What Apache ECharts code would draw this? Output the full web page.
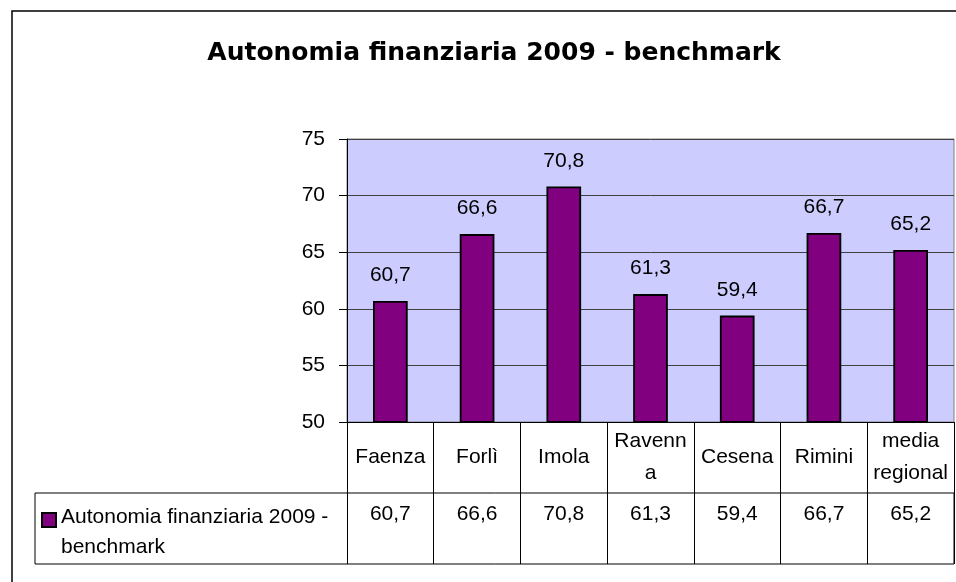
<html>
    <head>
        <meta charset="utf-8">
        <script src="https://cdn.jsdelivr.net/npm/echarts@6/dist/echarts.min.js"></script>
    </head>
    <body>
        <style>
            html, body, #main {
                width: 100%;
                height: 100%;
                margin: 0;
                background: #fff;
            }
        </style>
        <div id='main'></div>
        <script>
            var chart = echarts.init(document.getElementById('main'));

            // data
            var categories = ['Faenza', 'Forlì', 'Imola', 'Ravenn\na', 'Cesena', 'Rimini', 'media\nregional'];
            var values = [60.7, 66.6, 70.8, 61.3, 59.4, 66.7, 65.2];
            var seriesName = 'Autonomia finanziaria 2009 - benchmark';
            var yTicks = { min: 50, max: 75, interval: 5 };

            function fmt(v) {
                return v.toFixed(1).replace('.', ',');
            }

            var labelFont = {
                fontFamily: 'Liberation Sans',
                fontSize: 21,
                color: '#000'
            };

            var option = {
                backgroundColor: '#fff',
                animation: false,
                title: {
                    text: 'Autonomia finanziaria 2009 - benchmark',
                    left: 489,
                    top: 36,
                    textAlign: 'center',
                    textStyle: {
                        fontFamily: 'DejaVu Sans',
                        fontWeight: 'bold',
                        fontSize: 25,
                        color: '#000'
                    }
                },
                legend: {
                    left: 41,
                    top: 485,
                    padding: 0,
                    itemWidth: 14,
                    itemHeight: 14,
                    icon: 'rect',
                    formatter: function () {
                        // empty first line pushes the two text lines to sit like the table cell
                        return '{s| }\n{a|Autonomia finanziaria 2009 -}\n{a|benchmark}';
                    },
                    textStyle: {
                        fontFamily: 'Liberation Sans',
                        fontSize: 21,
                        color: '#000',
                        rich: {
                            s: { fontSize: 10, lineHeight: 25 },
                            a: { fontFamily: 'Liberation Sans', fontSize: 21, lineHeight: 30, color: '#000' }
                        }
                    }
                },
                graphic: [
                    // outer chart frame
                    {
                        type: 'rect',
                        shape: { x: 12, y: 11, width: 1000, height: 1000 },
                        style: { fill: 'none', stroke: '#000', lineWidth: 1.5 },
                        silent: true
                    },
                    // data table body row
                    {
                        type: 'rect',
                        shape: { x: 35, y: 493, width: 919, height: 71 },
                        style: { fill: 'none', stroke: '#000', lineWidth: 1 },
                        silent: true
                    }
                ],
                grid: {
                    left: 347,
                    right: 2,
                    top: 139,
                    bottom: 160,
                    show: true,
                    backgroundColor: '#ccccff',
                    borderColor: '#808080',
                    borderWidth: 1
                },
                xAxis: [
                    {
                        type: 'category',
                        data: categories,
                        axisLine: { lineStyle: { color: '#000', width: 1 } },
                        axisTick: {
                            show: true,
                            inside: false,
                            length: 142,
                            lineStyle: { color: '#000', width: 1 }
                        },
                        axisLabel: Object.assign({
                            margin: 35,
                            verticalAlign: 'middle',
                            lineHeight: 32,
                            interval: 0
                        }, labelFont)
                    },
                    {
                        type: 'category',
                        data: categories,
                        position: 'bottom',
                        offset: 71,
                        axisLine: { show: false },
                        axisTick: { show: false },
                        axisLabel: Object.assign({
                            margin: 21,
                            verticalAlign: 'middle',
                            interval: 0,
                            formatter: function (v, i) {
                                return fmt(values[i]);
                            }
                        }, labelFont)
                    }
                ],
                yAxis: {
                    type: 'value',
                    min: yTicks.min,
                    max: yTicks.max,
                    interval: yTicks.interval,
                    axisLine: { show: true, lineStyle: { color: '#000', width: 1 } },
                    axisTick: { show: true, length: 8, lineStyle: { color: '#000' } },
                    axisLabel: Object.assign({ margin: 22 }, labelFont),
                    splitLine: { lineStyle: { color: '#404040', width: 1 } }
                },
                series: [{
                    name: seriesName,
                    type: 'bar',
                    data: values,
                    barCategoryGap: '60%',
                    itemStyle: {
                        color: '#800080',
                        borderColor: '#000',
                        borderWidth: 1.8
                    },
                    label: Object.assign({
                        show: true,
                        position: 'top',
                        distance: 15,
                        formatter: function (p) {
                            return fmt(p.value);
                        }
                    }, labelFont)
                }]
            };

            chart.setOption(option);

            window.onresize = function () {
                chart.resize();
            }
        </script>
    </body>
</html>
